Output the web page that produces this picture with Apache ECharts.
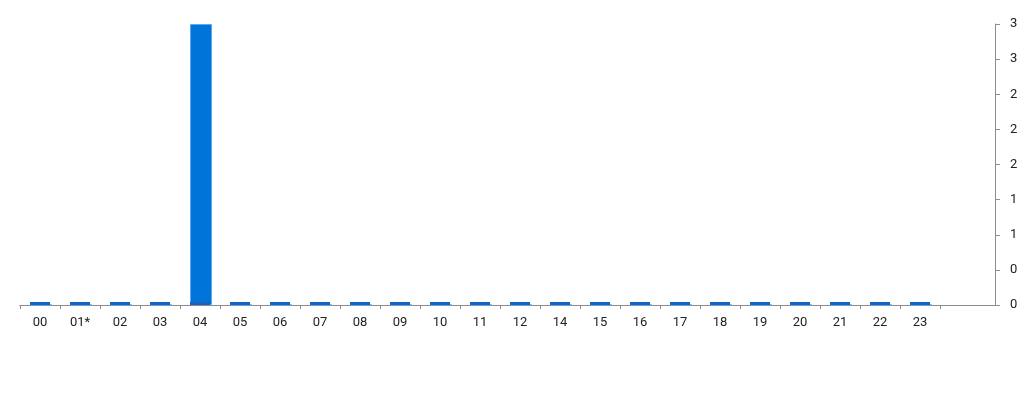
<!DOCTYPE html>
<html>
<head>
<meta charset="utf-8">
<script src="https://cdn.jsdelivr.net/npm/echarts@6/dist/echarts.min.js"></script>
<style>
  html, body { margin: 0; padding: 0; background: #fff; }
  #chart { width: 1024px; height: 400px; }
</style>
</head>
<body>
<div id="chart"></div>
<script>
  // hour buckets (13 has no entry)
  var hours = ['00', '01*', '02', '03', '04', '05', '06', '07', '08', '09', '10', '11',
               '12', '14', '15', '16', '17', '18', '19', '20', '21', '22', '23'];
  var counts = [0, 0, 0, 0, 3, 0, 0, 0, 0, 0, 0, 0, 0, 0, 0, 0, 0, 0, 0, 0, 0, 0, 0];
  var baseline = [0, 0, 0, 0, 0, 0, 0, 0, 0, 0, 0, 0, 0, 0, 0, 0, 0, 0, 0, 0, 0, 0, 0];

  var AXIS = '#8c8c8c';
  var TEXT = { color: '#222', fontFamily: 'Roboto', fontSize: 13 };

  var chart = echarts.init(document.getElementById('chart'));

  chart.setOption({
    animation: false,
    // grid 0 holds the bars, grid 1 is the wider frame carrying the right axis
    grid: [
      { left: 20, right: 84, top: 24, bottom: 95 },
      { left: 20, right: 29, top: 24, bottom: 95 }
    ],
    xAxis: [{
      type: 'category',
      gridIndex: 0,
      data: hours,
      axisLine: { show: true, lineStyle: { color: AXIS } },
      axisTick: { show: true, length: 4, lineStyle: { color: AXIS } },
      axisLabel: Object.assign({ margin: 11 }, TEXT)
    }, {
      type: 'value',
      gridIndex: 1,
      min: 0,
      max: 1,
      axisLine: { show: true, lineStyle: { color: AXIS } },
      axisTick: { show: false },
      axisLabel: { show: false },
      splitLine: { show: false }
    }],
    yAxis: [{
      type: 'value',
      gridIndex: 0,
      min: 0,
      max: 3,
      show: false
    }, {
      type: 'value',
      gridIndex: 1,
      position: 'right',
      min: 0,
      max: 3,
      interval: 0.375,
      splitLine: { show: false },
      axisLine: { show: true, onZero: false, lineStyle: { color: AXIS } },
      axisTick: { show: true, length: 5, lineStyle: { color: AXIS } },
      axisLabel: Object.assign({
        margin: 15,
        formatter: function(v) { return String(Math.round(v)); }
      }, TEXT)
    }],
    series: [{
      type: 'bar',
      xAxisIndex: 0,
      yAxisIndex: 0,
      data: counts,
      barWidth: 22,
      itemStyle: { color: '#0074d9', borderColor: '#5fa8ea', borderWidth: 1 }
    }, {
      type: 'bar',
      xAxisIndex: 0,
      yAxisIndex: 0,
      data: baseline,
      barWidth: 20,
      barGap: '-100%',
      barMinHeight: 3,
      itemStyle: { color: '#1565c0' }
    }]
  });
</script>
</body>
</html>
